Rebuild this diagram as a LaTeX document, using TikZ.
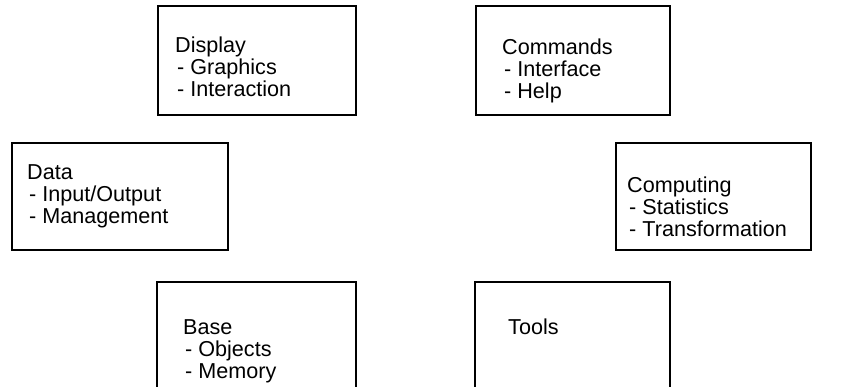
\documentclass[tikz,border=0pt]{standalone}
\usepackage{fontspec}
\setmainfont{Liberation Sans}
\newcommand{\ind}{\hspace{2pt}}
\begin{document}
\begin{tikzpicture}[x=1pt,y=-1pt,
  box/.style={draw=black,line width=1.3pt},
  txt/.style={anchor=north west,inner sep=0pt,align=left,font=\fontsize{21.6}{22}\selectfont}]
\useasboundingbox (0,0) rectangle (850,387);
\clip (0,0) rectangle (850,387);
\path[box] (158,6) rectangle (356,115) coordinate (displaybox);
\path[box] (476,6) rectangle (670,115) coordinate (commandsbox);
\path[box] (12,143) rectangle (228,250) coordinate (databox);
\path[box] (616,143) rectangle (811,250) coordinate (computingbox);
\path[box] (157,282) rectangle (356,400) coordinate (basebox);
\path[box] (475,282) rectangle (670,400) coordinate (toolsbox);
\node[txt] (display) at (175,37) {Display\\\ind- Graphics\\\ind- Interaction};
\node[txt] (commands) at (502,39) {Commands\\\ind- Interface\\\ind- Help};
\node[txt] (data) at (27,164) {Data\\\ind- Input/Output\\\ind- Management};
\node[txt] (computing) at (627,177) {Computing\\\ind- Statistics\\\ind- Transformation};
\node[txt] (base) at (183,319) {Base\\\ind- Objects\\\ind- Memory};
\node[txt] (tools) at (508,319) {Tools};
\end{tikzpicture}
\end{document}
